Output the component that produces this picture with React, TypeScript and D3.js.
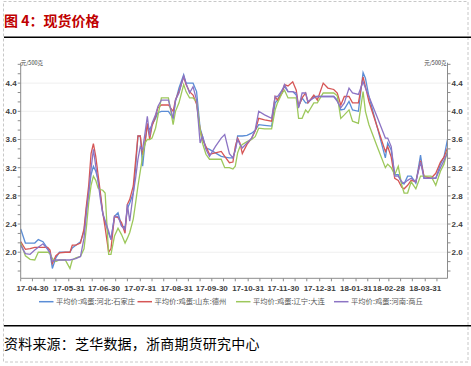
import React from "react";
import * as d3 from "d3";

// 日期（2017-04-20 起）
const dates = [
  "2017-04-20", "2017-04-24", "2017-04-28", "2017-05-02", "2017-05-05", "2017-05-09", "2017-05-13", "2017-05-15", "2017-05-17", "2017-05-20",
  "2017-05-23", "2017-05-28", "2017-06-01", "2017-06-03", "2017-06-06", "2017-06-10", "2017-06-13", "2017-06-15", "2017-06-17", "2017-06-19",
  "2017-06-21", "2017-06-23", "2017-06-25", "2017-06-27", "2017-06-29", "2017-07-01", "2017-07-04", "2017-07-06", "2017-07-09", "2017-07-12",
  "2017-07-15", "2017-07-18", "2017-07-20", "2017-07-22", "2017-07-25", "2017-07-27", "2017-07-29", "2017-07-31", "2017-08-02", "2017-08-04",
  "2017-08-06", "2017-08-08", "2017-08-10", "2017-08-13", "2017-08-15", "2017-08-18", "2017-08-24", "2017-08-28", "2017-08-30", "2017-09-02",
  "2017-09-06", "2017-09-08", "2017-09-11", "2017-09-14", "2017-09-17", "2017-09-20", "2017-09-22", "2017-09-25", "2017-09-28", "2017-10-03",
  "2017-10-08", "2017-10-11", "2017-10-15", "2017-10-18", "2017-10-20", "2017-10-22", "2017-10-24", "2017-10-26", "2017-10-30", "2017-11-03",
  "2017-11-06", "2017-11-09", "2017-11-14", "2017-11-20", "2017-11-23", "2017-11-25", "2017-11-29", "2017-12-01", "2017-12-04", "2017-12-08",
  "2017-12-11", "2017-12-13", "2017-12-16", "2017-12-19", "2017-12-21", "2017-12-26", "2017-12-29", "2018-01-03", "2018-01-07", "2018-01-12",
  "2018-01-15", "2018-01-18", "2018-01-21", "2018-01-25", "2018-01-28", "2018-02-02", "2018-02-06", "2018-02-08", "2018-02-11", "2018-02-18",
  "2018-02-25", "2018-02-27", "2018-03-02", "2018-03-05", "2018-03-08", "2018-03-11", "2018-03-13", "2018-03-16", "2018-03-19", "2018-03-23",
  "2018-03-27", "2018-03-30", "2018-04-05", "2018-04-09", "2018-04-13", "2018-04-16", "2018-04-19",
];

const hebei = [
  2.33, 2.13, 2.13, 2.13, 2.18, 2.15, 2.05, 1.99, 1.77, 1.92,
  2.0, 2.0, 2.0, 2.06, 2.1, 2.15, 2.3, 2.62, 2.85, 3.1,
  3.22, 3.15, 3.03, 2.8, 2.55, 2.42, 2.27, 2.18, 2.51, 2.56,
  2.38, 2.35, 2.62, 2.7, 2.84, 3.2, 3.65, 3.65, 3.22, 3.55,
  3.79, 3.74, 3.81, 3.9, 3.98, 4.0, 4.0, 3.9, 4.14, 4.33,
  4.52, 4.4, 4.4, 4.4, 4.28, 3.76, 3.65, 3.48, 3.46, 3.41,
  3.36, 3.35, 3.34, 3.34, 3.45, 3.65, 3.65, 3.65, 3.66, 3.69,
  3.73, 3.81, 3.8, 3.79, 4.12, 4.16, 4.3, 4.35, 4.28, 4.28,
  4.23, 4.07, 4.19, 4.12, 4.12, 4.21, 4.21, 4.21, 4.21, 4.21,
  4.16, 4.02, 4.03, 4.14, 4.02, 4.0, 4.55, 4.47, 4.21, 3.78,
  3.34, 3.55, 3.45, 3.1, 3.1, 2.98, 2.97, 3.08, 3.08, 2.98,
  3.38, 3.05, 3.05, 3.05, 3.25, 3.35, 3.6,
];

const shandong = [
  2.15, 2.04, 2.05, 2.07, 2.07, 2.07, 2.07, 2.03, 1.84, 1.95,
  1.99, 2.0, 2.0, 2.1, 2.1, 2.13, 2.33, 2.66, 2.95, 3.4,
  3.54, 3.36, 3.1, 2.84, 2.56, 2.35, 2.0, 2.05, 2.51, 2.49,
  2.42, 2.27, 2.68, 2.75, 2.94, 3.3, 3.65, 3.65, 3.38, 3.55,
  3.83, 3.6, 3.79, 3.93, 4.05, 4.09, 4.09, 4.0, 4.16, 4.28,
  4.49, 4.38, 4.28, 4.23, 4.1, 3.74, 3.6, 3.5, 3.39, 3.41,
  3.43, 3.36, 3.27, 3.28, 3.5, 3.62, 3.55, 3.4, 3.53, 3.62,
  3.72, 3.9, 3.88, 3.86, 4.21, 4.16, 4.26, 4.38, 4.36, 4.42,
  4.3, 4.07, 4.19, 4.26, 4.12, 4.23, 4.16, 4.4, 4.33, 4.31,
  4.26, 4.09, 4.21, 4.21, 4.12, 4.12, 4.49, 4.35, 4.14, 3.78,
  3.43, 3.5, 3.35, 3.05, 3.02, 2.92, 2.9, 2.95, 3.02, 3.0,
  3.3, 3.08, 3.05, 3.12, 3.28, 3.35, 3.48,
];

const liaoning = [
  2.13, 1.95, 1.9, 1.89, 2.0, 2.0, 2.0, 1.98, 1.91, 1.87,
  1.89, 1.89, 1.77, 1.89, 1.92, 1.94, 2.05, 2.35, 2.7, 2.95,
  3.08, 3.02, 2.91, 2.89, 2.88, 2.84, 1.97, 1.97, 2.23, 2.34,
  2.25, 2.13, 2.2, 2.28, 2.47, 2.7, 2.94, 3.15, 3.36, 3.55,
  3.6, 3.6, 3.62, 3.76, 3.93, 4.19, 4.19, 3.81, 4.0, 4.12,
  4.38, 4.28, 4.19, 4.19, 4.14, 3.74, 3.55, 3.39, 3.32, 3.32,
  3.32, 3.2, 3.2, 3.18, 3.22, 3.41, 3.5, 3.53, 3.57, 3.6,
  3.64, 3.76, 3.75, 3.75, 4.02, 4.12, 4.26, 4.3, 4.19, 4.19,
  4.19, 3.9, 3.9, 4.02, 3.98, 4.12, 4.12, 4.26, 4.26, 4.26,
  4.22, 3.9, 3.95, 4.02, 3.86, 3.83, 4.28, 4.0, 3.81, 3.5,
  3.2, 3.25, 3.2, 3.1, 3.22, 2.95, 2.84, 2.84, 3.0, 2.9,
  3.08, 3.08, 3.08, 2.95, 3.15, 3.25, 3.44,
];

const henan = [
  2.1, 1.98, 1.97, 2.03, 2.07, 2.12, 2.04, 1.99, 1.87, 1.89,
  1.89, 1.89, 1.89, 1.9, 1.91, 1.94, 2.2, 2.55, 2.85, 3.18,
  3.46, 3.22, 3.0, 2.75, 2.55, 2.45, 2.3, 2.18, 2.51, 2.51,
  2.37, 2.32, 2.68, 2.44, 2.84, 3.05, 3.32, 3.5, 3.46, 3.69,
  3.93, 3.65, 3.83, 3.95, 4.07, 4.16, 4.16, 3.9, 4.16, 4.26,
  4.5, 4.4, 4.26, 4.35, 4.16, 3.55, 3.65, 3.46, 3.36, 3.5,
  3.62, 3.67, 3.4, 3.34, 3.45, 3.6, 3.53, 3.48, 3.55, 3.62,
  3.74, 4.0, 3.95, 3.9, 4.21, 4.21, 4.3, 4.38, 4.28, 4.28,
  4.26, 4.05, 4.26, 4.26, 4.14, 4.19, 4.21, 4.21, 4.21, 4.21,
  4.14, 4.05, 4.12, 4.33, 4.26, 4.24, 4.42, 4.33, 4.21, 3.92,
  3.62, 3.62, 3.5, 3.08, 3.08, 3.0, 2.98, 3.02, 3.05, 3.0,
  3.28, 3.05, 3.05, 3.05, 3.2, 3.3, 3.42,
];

const seriesNames = [
  "平均价:鸡蛋:河北:石家庄",
  "平均价:鸡蛋:山东:德州",
  "平均价:鸡蛋:辽宁:大连",
  "平均价:鸡蛋:河南:商丘",
];
const seriesValues = [hebei, shandong, liaoning, henan];
const colors = ["#5b8dd6", "#d65656", "#9dc85c", "#8c74c4"];

const yLabels = [2.0, 2.4, 2.8, 3.2, 3.6, 4.0, 4.4];
const xLabels = [
  "2017-04-30", "2017-05-31", "2017-06-30", "2017-07-31", "2017-08-31", "2017-09-30",
  "2017-10-31", "2017-11-30", "2017-12-31", "2018-01-31", "2018-02-28", "2018-03-31",
];

const W = 471;
const H = 366;
const left = 20.7;
const right = 447.5;
const top = 62.7;
const bottom = 278.3;

export default function App() {
  const parse = d3.timeParse("%Y-%m-%d");
  const fmt = d3.timeFormat("%y-%m-%d");
  const dd = dates.map((s) => parse(s) as Date);

  const x = d3.scaleTime().domain([dd[0], dd[dd.length - 1]]).range([left, right]);
  const y = d3.scaleLinear().domain([1.63, 4.69]).range([bottom, top]);

  const line = d3
    .line<number>()
    .x((_, i) => x(dd[i]))
    .y((v) => y(v));

  // minor ticks every 0.4/3
  const yTicks = d3
    .range(0, 24)
    .map((i) => 4.6667 - (i * 0.4) / 3)
    .filter((v) => v >= 1.63 && v <= 4.69);

  // x ticks: 10th, 20th and month end
  const xTicks: Date[] = [];
  d3.timeMonth.range(new Date(2017, 3, 1), new Date(2018, 4, 1)).forEach((m) => {
    const end = d3.timeDay.offset(d3.timeMonth.offset(m, 1), -1);
    [new Date(m.getFullYear(), m.getMonth(), 10), new Date(m.getFullYear(), m.getMonth(), 20), end].forEach((t) => {
      if (t >= dd[0] && t <= dd[dd.length - 1]) xTicks.push(t);
    });
  });

  const axisColor = "#8c8c8c";
  const labelFont = "'Liberation Sans', Arial, sans-serif";
  const cjk = "'Noto Sans CJK SC', sans-serif";
  const legendX = [39, 137.5, 236, 334];

  return (
    <svg
      width={W}
      height={H}
      style={{ position: "absolute", left: 0, top: 0, background: "#fff" }}
    >
      <rect x={3.5} y={1.5} width={464.5} height={360.5} fill="none" stroke="#c8c8c8" strokeDasharray="3,2" />
      <text x={4} y={26} fontFamily={cjk} fontWeight="bold" fontSize={14} fill="#c00000">
        图 4：现货价格
      </text>
      <line x1={4} x2={471} y1={37.3} y2={37.3} stroke="#000" strokeWidth={1.5} />

      {/* grid */}
      {yLabels.map((v) => (
        <line key={"g" + v} x1={left} x2={right} y1={y(v)} y2={y(v)} stroke="#efefef" />
      ))}

      {/* series */}
      {seriesValues.map((vals, i) => (
        <path key={seriesNames[i]} d={line(vals) || ""} fill="none" stroke={colors[i]} strokeWidth={1.3} />
      ))}

      {/* axes */}
      <line x1={left} x2={left} y1={top} y2={bottom} stroke={axisColor} />
      <line x1={right} x2={right} y1={top} y2={bottom} stroke={axisColor} />
      <line x1={left} x2={right} y1={bottom} y2={bottom} stroke={axisColor} />
      {yTicks.map((v) => (
        <g key={"t" + v}>
          <line x1={left - 3} x2={left} y1={y(v)} y2={y(v)} stroke={axisColor} />
          <line x1={right} x2={right + 3} y1={y(v)} y2={y(v)} stroke={axisColor} />
        </g>
      ))}
      {yLabels.map((v) => (
        <g key={"l" + v} fontFamily={labelFont} fontSize={8} fontWeight="bold" fill="#404040">
          <text x={left - 4} y={y(v) + 3} textAnchor="end">
            {v.toFixed(1)}
          </text>
          <text x={right + 4} y={y(v) + 3}>
            {v.toFixed(1)}
          </text>
        </g>
      ))}
      {xTicks.map((t) => (
        <line key={"x" + t.getTime()} x1={x(t)} x2={x(t)} y1={bottom} y2={bottom + 3} stroke={axisColor} />
      ))}
      {xLabels.map((s) => {
        const t = parse(s) as Date;
        return (
          <text key={s} x={x(t)} y={290.5} textAnchor="middle" fontFamily={labelFont} fontSize={8} fontWeight="bold" fill="#404040">
            {fmt(t)}
          </text>
        );
      })}
      <text x={left} y={65} fontFamily={cjk} fontSize={5.5} fill="#333">
        元/500克
      </text>
      <text x={right - 1} y={65} textAnchor="end" fontFamily={cjk} fontSize={5.5} fill="#333">
        元/500克
      </text>

      {/* legend */}
      {seriesNames.map((n, i) => (
        <g key={"lg" + n}>
          <line x1={legendX[i]} x2={legendX[i] + 14.5} y1={301.7} y2={301.7} stroke={colors[i]} strokeWidth={1.5} />
          <text x={legendX[i] + 17} y={304.2} fontFamily={cjk} fontSize={7.3} fill="#595959">
            {n}
          </text>
        </g>
      ))}

      <line x1={4} x2={471} y1={325.7} y2={325.7} stroke="#000" strokeWidth={1.5} />
      <text x={4} y={349} fontFamily={cjk} fontSize={14} fill="#000" letterSpacing={0.2}>
        资料来源：芝华数据，浙商期货研究中心
      </text>
    </svg>
  );
}
